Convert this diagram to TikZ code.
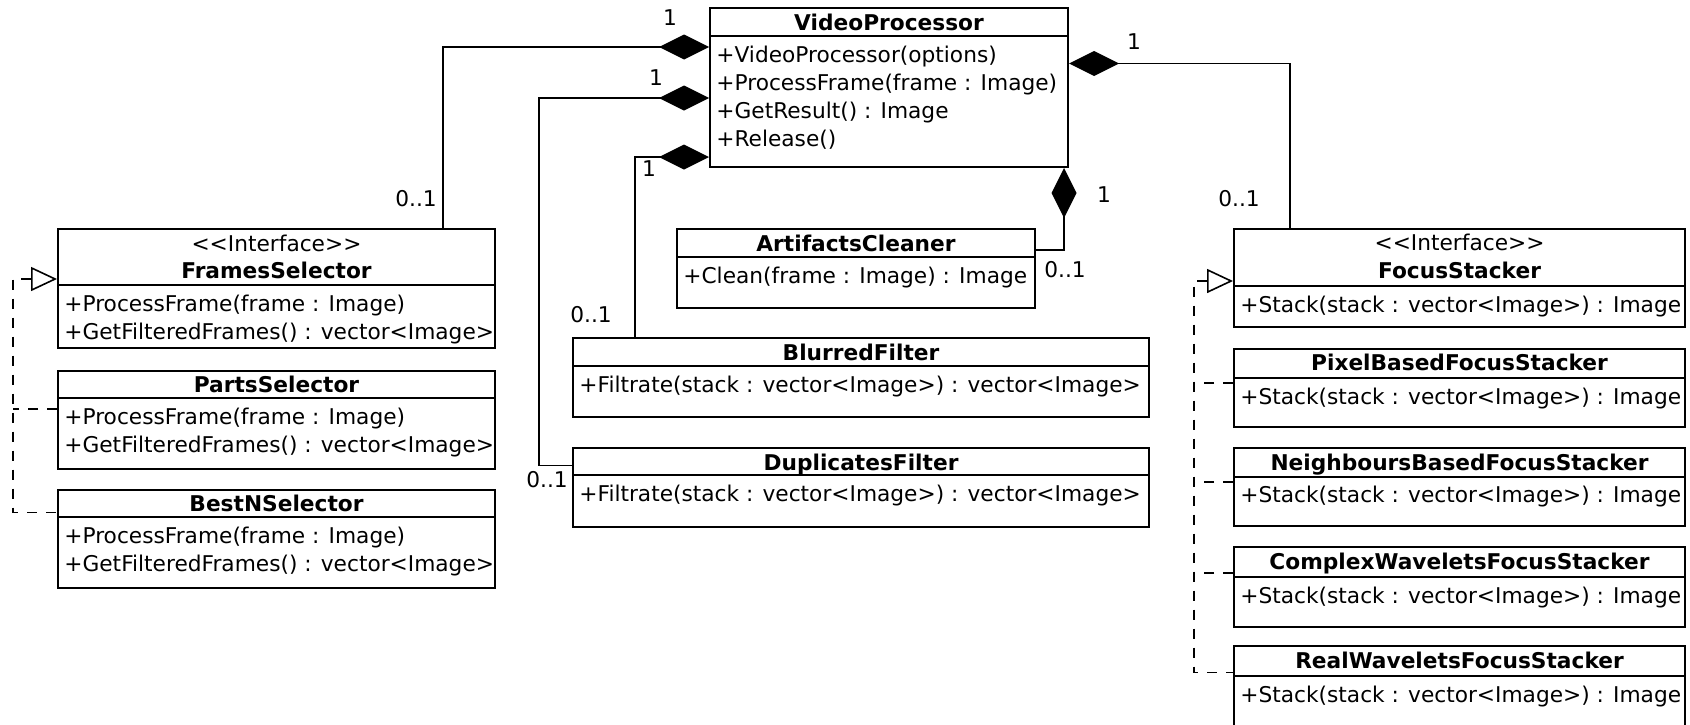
\documentclass[tikz,border=0pt]{standalone}
\usepackage{fontspec}
\setmainfont{DejaVu Sans}
\usetikzlibrary{arrows.meta,fit}

% class box: name, x1, y1, x2, y2, divider y, title baseline y, title, operations
\newcommand{\umlclass}[9]{%
  \node[classbox, fit={(#2,#3) (#4,#5)}] (#1) {};
  \draw[divider] (#1.west |- 0,#6) -- (#1.east |- 0,#6);
  \node[title] (#1-title) at ({(#2+#4)/2},#7) {#8};
  \foreach \op [count=\n] in {#9}
    \node[op] (#1-op\n) at ({#2+6},{#6+26+28*(\n-1)}) {\op};
}

\begin{document}
\begin{tikzpicture}[x=0.5pt, y=-0.5pt,
  font=\fontsize{10.85}{14}\selectfont,
  classbox/.style={draw, line width=1pt, inner sep=0pt},
  divider/.style={draw, line width=1pt},
  title/.style={anchor=base, inner sep=0pt, font=\fontsize{10.85}{14}\selectfont\bfseries},
  op/.style={anchor=base west, inner sep=0pt},
  stereo/.style={anchor=base, inner sep=0pt},
  mult/.style={inner sep=0pt},
  comp/.style={draw, line width=0.8pt, {Diamond[length=25pt, width=12.5pt]}-},
  dashline/.style={draw, line width=0.8pt, dash pattern=on 5pt off 4.5pt},
  real/.style={dashline, {Triangle[open, length=13pt, width=12pt, fill=white]}-},
  ]
  \useasboundingbox (0,0) rectangle (1690,724);

  % classes
  \umlclass{vp}{710}{8}{1068}{167}{36}{30}{VideoProcessor}
    {+VideoProcessor(options), +ProcessFrame(frame : Image), +GetResult() : Image, +Release()}
  \umlclass{fs}{58}{229}{495}{348}{285}{278.5}{FramesSelector}
    {+ProcessFrame(frame : Image), +GetFilteredFrames() : vector<Image>}
  \node[stereo] (fs-stereo) at (276.5,251) {<{}<Interface>{}>};
  \umlclass{ps}{58}{371}{495}{469}{398}{392}{PartsSelector}
    {+ProcessFrame(frame : Image), +GetFilteredFrames() : vector<Image>}
  \umlclass{bn}{58}{490}{495}{588}{517}{511}{BestNSelector}
    {+ProcessFrame(frame : Image), +GetFilteredFrames() : vector<Image>}
  \umlclass{ac}{677}{229}{1035}{308}{257}{251}{ArtifactsCleaner}
    {+Clean(frame : Image) : Image}
  \umlclass{bf}{573}{338}{1149}{417}{366}{360}{BlurredFilter}
    {+Filtrate(stack : vector<Image>) : vector<Image>}
  \umlclass{df}{573}{448}{1149}{527}{475}{470}{DuplicatesFilter}
    {+Filtrate(stack : vector<Image>) : vector<Image>}
  \umlclass{fst}{1234}{228.5}{1685}{327}{286}{278}{FocusStacker}
    {+Stack(stack : vector<Image>) : Image}
  \node[stereo] (fst-stereo) at (1459.5,250) {<{}<Interface>{}>};
  \umlclass{pb}{1234}{349}{1685}{427}{378}{370}{PixelBasedFocusStacker}
    {+Stack(stack : vector<Image>) : Image}
  \umlclass{nb}{1234}{448}{1685}{526}{476.5}{470}{NeighboursBasedFocusStacker}
    {+Stack(stack : vector<Image>) : Image}
  \umlclass{cw}{1234}{547}{1685}{626.5}{577}{569}{ComplexWaveletsFocusStacker}
    {+Stack(stack : vector<Image>) : Image}
  \umlclass{rw}{1234}{646}{1685}{730}{676}{668}{RealWaveletsFocusStacker}
    {+Stack(stack : vector<Image>) : Image}

  % compositions
  \path[comp] (vp.west |- 0,47) -| (fs.north -| 443,0);
  \path[comp] (vp.west |- 0,98) -| (539,465.5) -- (df.west |- 0,465.5);
  \path[comp] (vp.west |- 0,157) -| (bf.north -| 635,0);
  \path[comp] (vp.east |- 0,63.5) -| (fst.north -| 1290,0);
  \path[comp] (vp.south -| 1064,0) |- (ac.east |- 0,250);

  % multiplicities
  \node[mult] (m-fs1) at (670,18) {1};
  \node[mult] (m-fs2) at (416,199) {0..1};
  \node[mult] (m-df1) at (656,78) {1};
  \node[mult] (m-df2) at (547,480) {0..1};
  \node[mult] (m-bf1) at (649,169) {1};
  \node[mult] (m-bf2) at (591,315) {0..1};
  \node[mult] (m-fst1) at (1134,42) {1};
  \node[mult] (m-fst2) at (1239,199) {0..1};
  \node[mult] (m-ac1) at (1104,195) {1};
  \node[mult] (m-ac2) at (1065,270) {0..1};

  % realizations
  \path[real] (fs.west |- 0,279) -- (13,279) |- (bn.west |- 0,512.5);
  \path[dashline] (ps.west |- 0,409) -- (13,409);
  \path[real] (fst.west |- 0,281) -- (1194,281) |- (rw.west |- 0,672.5);
  \foreach \cls/\yy in {pb/383, nb/482, cw/573}
    \path[dashline] (\cls.west |- 0,\yy) -- (1194,\yy);
\end{tikzpicture}
\end{document}
